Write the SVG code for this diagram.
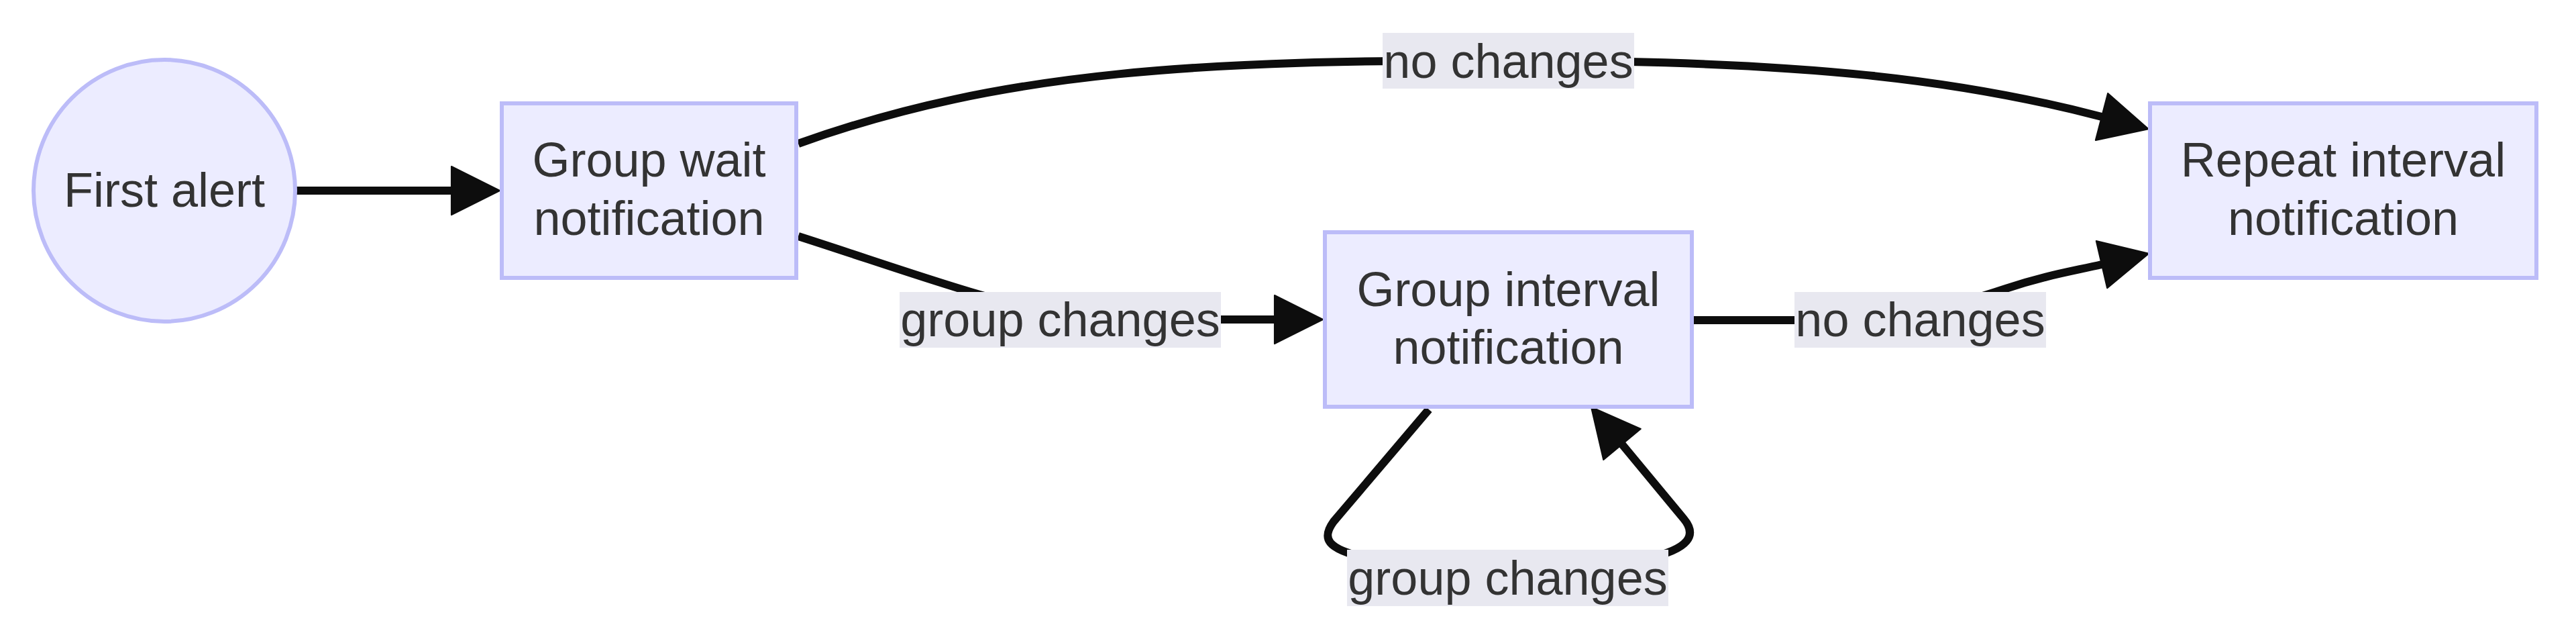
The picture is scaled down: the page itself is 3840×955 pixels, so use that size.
<svg xmlns="http://www.w3.org/2000/svg" width="3840" height="955" viewBox="0 0 3840 955">
<style>
.node{fill:#ECECFF;stroke:#BCBCF8;stroke-width:6}
.edge{fill:none;stroke:#0d0d0d;stroke-width:12}
.lbl{fill:#E8E8F0}
text{font-family:"Liberation Sans",Arial,sans-serif;font-size:72px;fill:#333333;text-anchor:middle}
</style>
<defs>
<marker id="arrow" viewBox="0 0 10 10" refX="0" refY="5" markerUnits="userSpaceOnUse" markerWidth="72" markerHeight="72" orient="auto" overflow="visible">
<path d="M0,0 L10,5 L0,10 z" fill="#0d0d0d" stroke="#0d0d0d" stroke-width="0.3" stroke-linejoin="round"/>
</marker>
</defs>
<rect width="3840" height="955" fill="#ffffff"/>
<g id="connectors">
<path class="edge" d="M442,284 L673,284" marker-end="url(#arrow)"/>
<path class="edge" d="M1190,214 C1500,103 1800,90 2248,90 C2700,90 2930,121 3133,174" marker-end="url(#arrow)"/>
<path class="edge" d="M1190,352 C1340,400 1470,448 1580,468 C1640,477 1700,476 1760,476 L1900,476" marker-end="url(#arrow)"/>
<path class="edge" d="M2525,477 L2700,477 C2830,477 2900,460 2990,430 C3050,410 3090,404 3133,394" marker-end="url(#arrow)"/>
<path class="edge" d="M2130,610 L1988,777 C1970,802 1976,818 2040,832 L2455,832 C2519,818 2530,797 2510,773 L2418,662" marker-end="url(#arrow)"/>
</g>
<g id="edge-labels">
<g id="label-top-no-changes"><rect class="lbl" x="2061" y="49" width="375" height="83"/><text x="2248.5" y="116">no changes</text></g>
<g id="label-group-changes"><rect class="lbl" x="1341" y="435" width="479" height="83"/><text x="1580.5" y="501">group changes</text></g>
<g id="label-no-changes"><rect class="lbl" x="2675" y="435" width="375" height="83"/><text x="2862.5" y="501">no changes</text></g>
<g id="label-loop-group-changes"><rect class="lbl" x="2008" y="819" width="479" height="84"/><text x="2247.5" y="886">group changes</text></g>
</g>
<g id="node-first-alert">
<circle class="node" cx="245" cy="284" r="195"/>
<text x="245" y="308">First alert</text>
</g>
<g id="node-group-wait">
<rect class="node" x="748" y="154" width="439" height="260"/>
<text x="967.5" y="263">Group wait</text>
<text x="967.5" y="350">notification</text>
</g>
<g id="node-group-interval">
<rect class="node" x="1975" y="346" width="547" height="260"/>
<text x="2248.5" y="456">Group interval</text>
<text x="2248.5" y="542">notification</text>
</g>
<g id="node-repeat-interval">
<rect class="node" x="3205" y="154" width="576" height="260"/>
<text x="3493" y="263">Repeat interval</text>
<text x="3493" y="350">notification</text>
</g>
</svg>
